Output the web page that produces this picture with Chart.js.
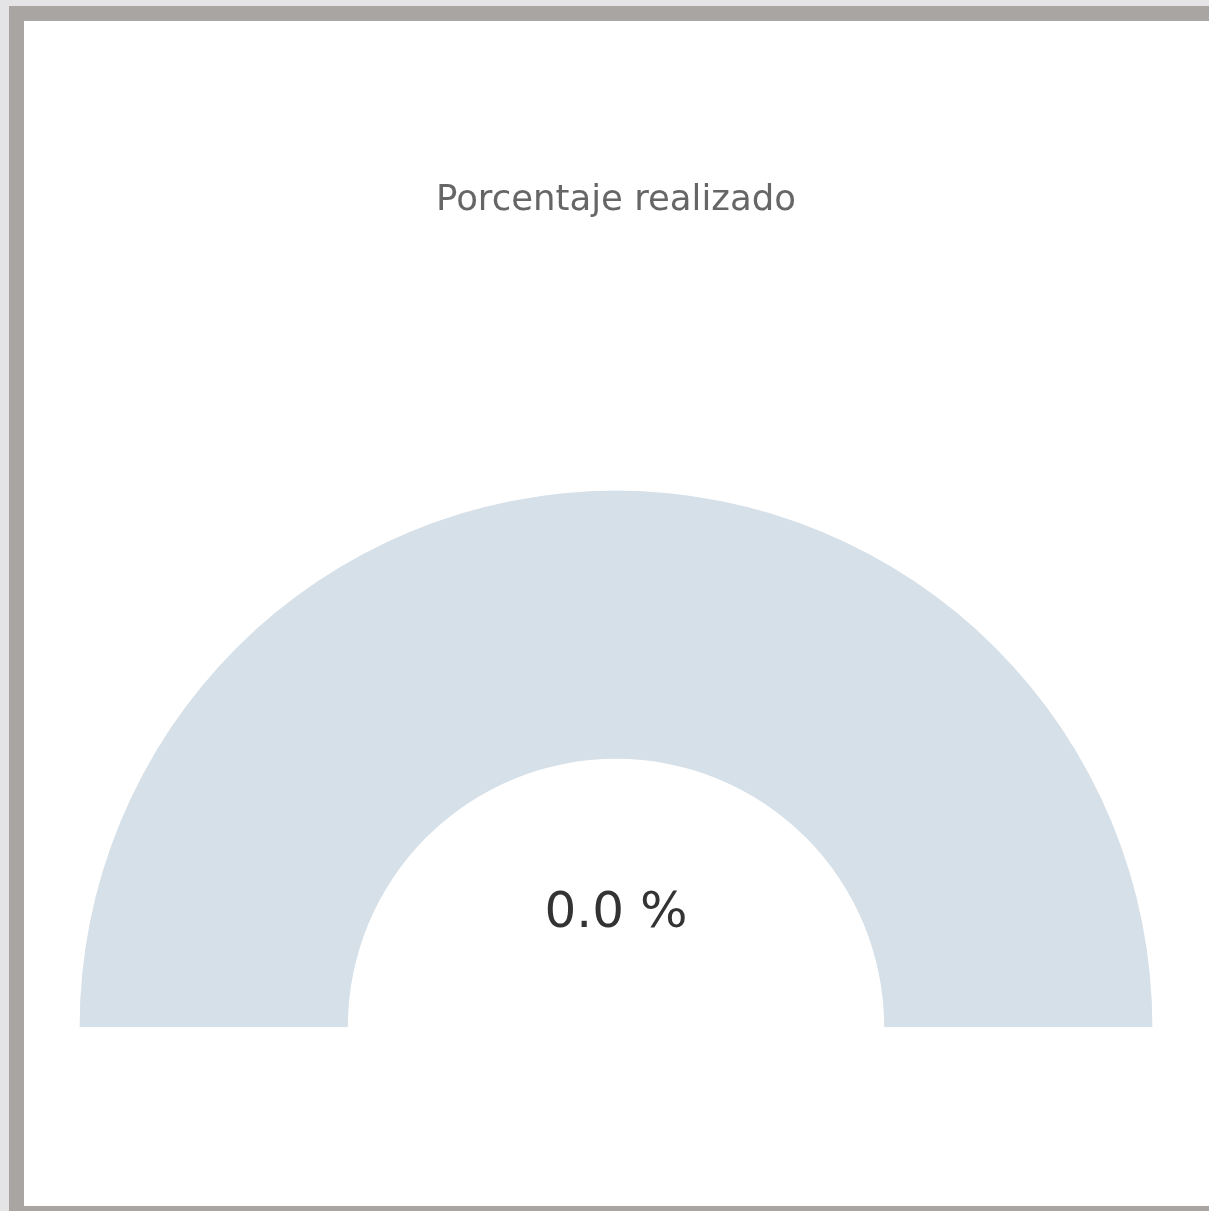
<!DOCTYPE html>
<html>
<head>
<meta charset="utf-8">
<script src="https://cdn.jsdelivr.net/npm/chart.js@4/dist/chart.umd.min.js"></script>
<style>
  html, body { margin: 0; padding: 0; background: #e4e4e6; overflow: hidden; }
  #frame {
    position: absolute; left: 9px; top: 6px;
    width: 1185px; height: 1185px;
    border: 15px solid #a9a5a3;
    background: #fff;
  }
  #frame canvas { display: block; }
</style>
</head>
<body>
<div id="frame"><canvas id="myChart" width="1185" height="1185"></canvas></div>
<script>
// data
var labels = ['Realizado', 'Pendiente'];
var values = [0, 100];
var colors = ['#5cb85c', '#d6e0e8'];
var titleText = 'Porcentaje realizado';

var total = values[0] + values[1];
var pct = (values[0] / total * 100).toFixed(1) + ' %';

// draws the percentage in the middle of the gauge
var centerText = {
  id: 'centerText',
  afterDraw: function (chart) {
    var arc = chart.getDatasetMeta(0).data[0];
    if (!arc) return;
    var ctx = chart.ctx;
    ctx.save();
    ctx.fillStyle = '#333';
    ctx.font = '50px "DejaVu Sans"';
    ctx.textAlign = 'center';
    ctx.textBaseline = 'middle';
    ctx.fillText(pct, arc.x, arc.y - arc.outerRadius * 0.21);
    ctx.restore();
  }
};

var ctx = document.getElementById('myChart').getContext('2d');
var myChart = new Chart(ctx, {
  type: 'doughnut',
  data: {
    labels: labels,
    datasets: [{
      data: values,
      backgroundColor: colors,
      borderWidth: 0
    }]
  },
  options: {
    responsive: false,
    animation: false,
    rotation: -90,
    circumference: 180,
    cutout: '50%',
    layout: { padding: { top: 158, bottom: 179, left: 55, right: 56 } },
    plugins: {
      legend: { display: false },
      tooltip: { enabled: false },
      title: {
        display: true,
        text: titleText,
        color: '#666',
        font: { family: 'DejaVu Sans', size: 35.5, weight: 'normal' },
        padding: { top: 0, bottom: 269 }
      }
    }
  },
  plugins: [centerText]
});
</script>
</body>
</html>
